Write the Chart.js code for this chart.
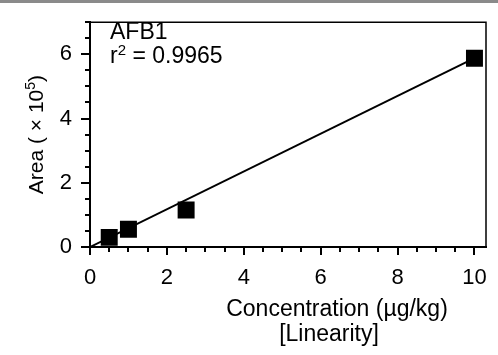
<!DOCTYPE html>
<html>
<head>
<meta charset="utf-8">
<script src="https://cdn.jsdelivr.net/npm/chart.js@4"></script>
<style>
  html, body { margin: 0; padding: 0; background: #fff; }
  #wrap { width: 498px; height: 355px; }
</style>
</head>
<body>
<div id="wrap"><canvas id="chart_linearity" width="498" height="355"></canvas></div>
<script>
// AFB1 calibration points (concentration ug/kg, area x 1e5)
const concentrations = [0.5, 1, 2.5, 10];
const areas = [0.30, 0.55, 1.15, 5.88];
// fitted line end points
const fitConc = [0, 10];
const fitArea = [0.0, 5.88];
const xTickLabels = [0, 2, 4, 6, 8, 10];
const yTickLabels = [0, 2, 4, 6];
const xMinorTicks = [0.5, 1, 1.5, 2.5, 3, 3.5, 4.5, 5, 5.5, 6.5, 7, 7.5, 8.5, 9, 9.5];
const yMinorTicks = [0.5, 1, 1.5, 2.5, 3, 3.5, 4.5, 5, 5.5, 6.5, 7];
const analyte = 'AFB1';
const r2Text = '0.9965';

const FONT = '"Liberation Sans", Arial, sans-serif';

var chart_linearity = new Chart(document.getElementById('chart_linearity'), {
    type: 'scatter',
    data: {
        datasets: [
            {
                label: 'Points',
                data: concentrations.map((c, i) => ({ x: c, y: areas[i] })),
                pointStyle: 'rect',
                pointRadius: 12,
                pointHoverRadius: 12,
                backgroundColor: '#000',
                borderColor: '#000',
                borderWidth: 0,
                order: 1
            },
            {
                label: 'Fit',
                type: 'line',
                data: fitConc.map((c, i) => ({ x: c, y: fitArea[i] })),
                borderColor: '#000',
                borderWidth: 2,
                pointRadius: 0,
                fill: false,
                order: 2
            }
        ]
    },
    options: {
        animation: false,
        responsive: false,
        layout: { padding: { top: 8, right: 8, left: 0, bottom: 0 } },
        plugins: {
            legend: { display: false },
            tooltip: { enabled: false }
        },
        scales: {
            x: {
                type: 'linear',
                min: 0,
                max: 10.3,
                afterFit: s => { s.height = 108; },
                afterBuildTicks: s => { s.ticks = xTickLabels.map(v => ({ value: v })); },
                ticks: {
                    font: { family: FONT, size: 22 },
                    color: '#000',
                    padding: 10
                },
                grid: {
                    drawOnChartArea: false,
                    color: '#000',
                    lineWidth: 2,
                    tickLength: 8
                },
                border: { color: '#000', width: 2 }
            },
            y: {
                type: 'linear',
                min: 0,
                max: 7,
                afterFit: s => { s.width = 90; },
                afterBuildTicks: s => { s.ticks = yTickLabels.map(v => ({ value: v })); },
                ticks: {
                    font: { family: FONT, size: 22 },
                    color: '#000',
                    padding: 9
                },
                grid: {
                    drawOnChartArea: false,
                    color: '#000',
                    lineWidth: 2,
                    tickLength: 9
                },
                border: { color: '#000', width: 2 }
            }
        }
    },
    plugins: [{
        id: 'decor',
        beforeDraw: (chart) => {
            const ctx = chart.ctx;
            ctx.save();
            ctx.fillStyle = 'white';
            ctx.fillRect(0, 0, chart.width, chart.height);
            ctx.fillStyle = '#8a8a8a';
            ctx.fillRect(0, 0, chart.width, 3);
            ctx.restore();
        },
        afterDraw: (chart) => {
            const ctx = chart.ctx;
            const a = chart.chartArea;
            const xs = chart.scales.x, ys = chart.scales.y;
            ctx.save();
            // frame top and right
            ctx.strokeStyle = '#000';
            ctx.lineWidth = 1.5;
            ctx.beginPath();
            ctx.moveTo(a.left, a.top);
            ctx.lineTo(a.right, a.top);
            ctx.lineTo(a.right, a.bottom);
            ctx.stroke();
            // minor ticks
            ctx.lineWidth = 2;
            ctx.beginPath();
            xMinorTicks.forEach(v => {
                const px = Math.round(xs.getPixelForValue(v));
                ctx.moveTo(px, a.bottom);
                ctx.lineTo(px, a.bottom + 5);
            });
            yMinorTicks.forEach(v => {
                const py = Math.round(ys.getPixelForValue(v));
                ctx.moveTo(a.left, py);
                ctx.lineTo(a.left - 5, py);
            });
            ctx.stroke();

            ctx.fillStyle = '#000';
            // annotation
            ctx.font = '23px ' + FONT;
            ctx.textAlign = 'left';
            ctx.textBaseline = 'alphabetic';
            const tx = a.left + 20;
            ctx.fillText(analyte, tx, 39);
            ctx.fillText('r', tx, 63);
            let w = ctx.measureText('r').width;
            ctx.font = '15px ' + FONT;
            ctx.fillText('2', tx + w, 55);
            w += ctx.measureText('2').width;
            ctx.font = '23px ' + FONT;
            ctx.fillText(' = ' + r2Text, tx + w, 63);

            // x title (two lines)
            ctx.textAlign = 'center';
            ctx.fillText('Concentration (\u00b5g/kg)', 337, 316);
            ctx.fillText('[Linearity]', 329, 341);

            // y title rotated with superscript
            ctx.translate(43, (a.top + a.bottom) / 2);
            ctx.rotate(-Math.PI / 2);
            const p1 = 'Area ( \u00d7 10', p3 = ')';
            ctx.font = '21px ' + FONT;
            const w1 = ctx.measureText(p1).width, w3 = ctx.measureText(p3).width;
            ctx.font = '14px ' + FONT;
            const w2 = ctx.measureText('5').width;
            let sx = -(w1 + w2 + w3) / 2;
            ctx.textAlign = 'left';
            ctx.font = '21px ' + FONT;
            ctx.fillText(p1, sx, 0);
            ctx.font = '14px ' + FONT;
            ctx.fillText('5', sx + w1, -8);
            ctx.font = '21px ' + FONT;
            ctx.fillText(p3, sx + w1 + w2, 0);
            ctx.restore();
        }
    }]
});
</script>
</body>
</html>
